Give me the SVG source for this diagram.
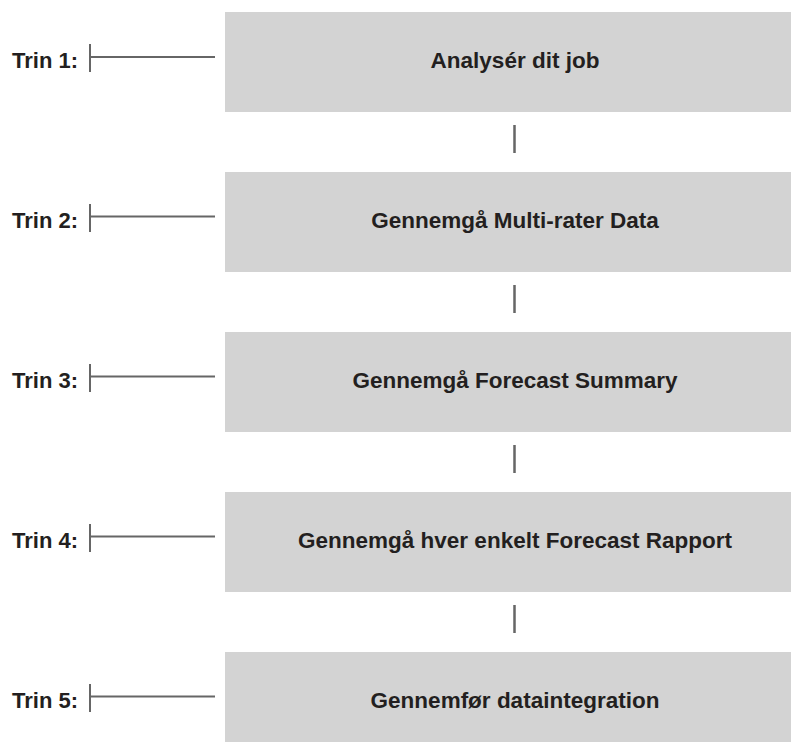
<svg xmlns="http://www.w3.org/2000/svg" width="791" height="742" viewBox="0 0 791 742">
<style>
.box{fill:#d3d3d3;}
.t{font-family:"Liberation Sans",Arial,sans-serif;font-weight:bold;font-size:22px;fill:#231f20;}
.c{text-anchor:middle;font-size:22.5px;}
.ln{stroke:#666;stroke-width:2;fill:none;}
.v{stroke:#666;stroke-width:2.5;fill:none;}
</style>
<rect width="791" height="742" fill="#fff"/>
<g id="connectors">
<path class="v" d="M514.5 125V153M514.5 285V313M514.5 445V473M514.5 605V633"/>
<path class="ln" d="M90 44V72M90 57H215M90 204V232M90 216.5H215M90 364V392M90 376.5H215M90 524V552M90 536.5H215M90 684V712M90 696.5H215"/>
</g>
<g id="step1"><rect class="box" x="225" y="12" width="580" height="100"/><text class="t" x="12" y="67.5">Trin 1:</text><text class="t c" x="515" y="67.5">Analysér dit job</text></g>
<g id="step2"><rect class="box" x="225" y="172" width="580" height="100"/><text class="t" x="12" y="227.5">Trin 2:</text><text class="t c" x="515" y="227.5">Gennemgå Multi-rater Data</text></g>
<g id="step3"><rect class="box" x="225" y="332" width="580" height="100"/><text class="t" x="12" y="387.5">Trin 3:</text><text class="t c" x="515" y="387.5">Gennemgå Forecast Summary</text></g>
<g id="step4"><rect class="box" x="225" y="492" width="580" height="100"/><text class="t" x="12" y="547.5">Trin 4:</text><text class="t c" x="515" y="547.5">Gennemgå hver enkelt Forecast Rapport</text></g>
<g id="step5"><rect class="box" x="225" y="652" width="580" height="100"/><text class="t" x="12" y="707.5">Trin 5:</text><text class="t c" x="515" y="707.5">Gennemfør dataintegration</text></g>
</svg>
